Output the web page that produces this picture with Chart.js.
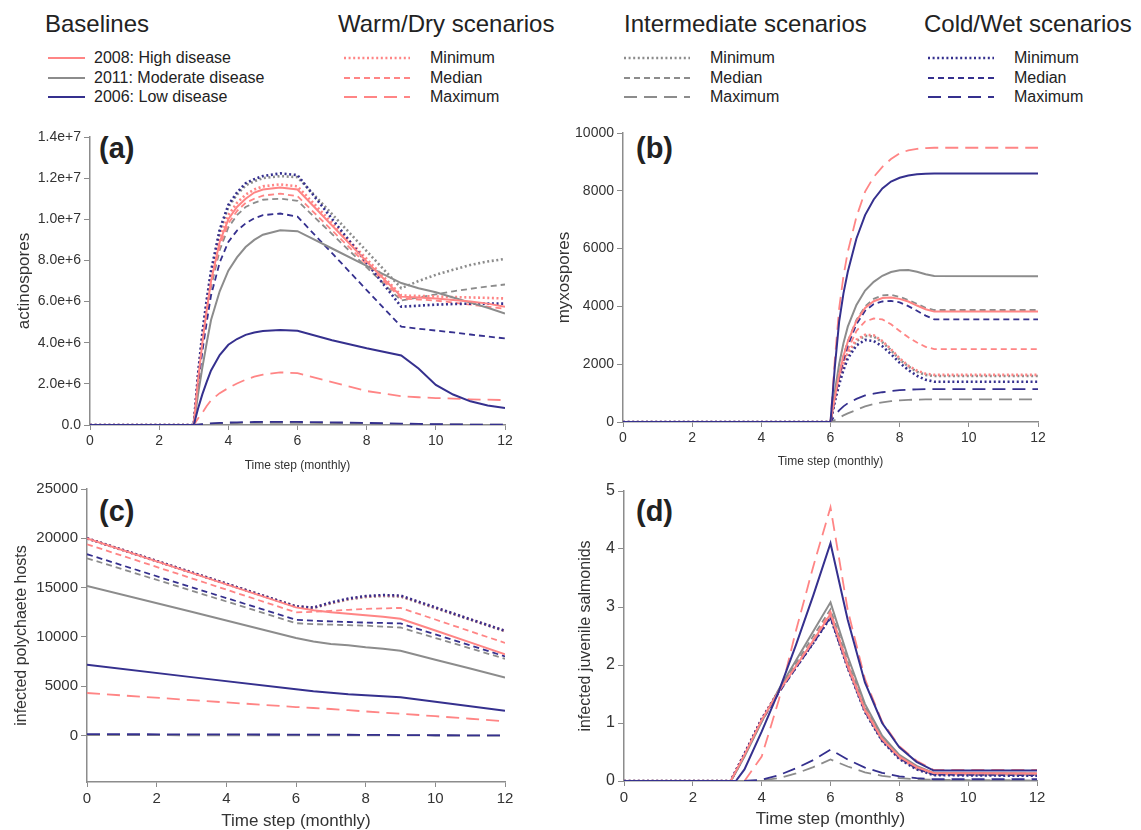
<!DOCTYPE html>
<html>
<head>
<meta charset="utf-8">
<title>Scenario outputs</title>
<script src="https://cdn.jsdelivr.net/npm/chart.js@4.4.1/dist/chart.umd.min.js"></script>
<style>
  body{margin:0;width:1141px;height:830px;position:relative;overflow:hidden;background:#fff;
       font-family:"Liberation Sans",Arial,sans-serif;color:#222}
  canvas{position:absolute}
  .head{position:absolute;top:9px;font-size:24px;line-height:30px;white-space:nowrap}
  .row{position:absolute;height:20px;font-size:16px;line-height:20px;white-space:nowrap}
  .row svg{position:absolute;top:0}
  .row span{position:absolute;top:0}
  .tag{position:absolute;font-size:29px;font-weight:bold;line-height:32px}
</style>
</head>
<body>
<div id="legend"></div>
<div class="tag" style="left:99px;top:132px">(a)</div>
<div class="tag" style="left:636px;top:132px">(b)</div>
<div class="tag" style="left:99px;top:495px">(c)</div>
<div class="tag" style="left:636px;top:495px">(d)</div>
<canvas id="pa" width="560" height="355" style="left:0;top:120px"></canvas>
<canvas id="pb" width="560" height="352" style="left:540px;top:120px"></canvas>
<canvas id="pc" width="560" height="362" style="left:0;top:470px"></canvas>
<canvas id="pd" width="560" height="362" style="left:540px;top:470px"></canvas>
<script>
// colours of the three climate groups
const RED = '#ff8585', GRAY = '#8c8c8c', BLUE = '#35308e';
const STYLE = {
  base: {w: 2, dash: []},
  min:  {w: 2.6, dash: [2, 2.6]},
  med:  {w: 1.8, dash: [6, 4]},
  max:  {w: 1.8, dash: [13, 7]}
};

// ---- (a) actinospores, values in millions ----
const tA = [0, 3, 3.125, 3.25, 3.375, 3.5, 3.75, 4, 4.25, 4.5, 4.75, 5, 5.5, 6, 7, 8, 9, 9.5, 10, 10.5, 11, 11.5, 12];
const aHigh     = [0, 0, 2.2, 4.0, 5.6, 7.0, 8.9, 10.0, 10.6, 11.0, 11.3, 11.45, 11.55, 11.45, 9.7, 7.95, 6.24, 6.2, 6.15, 6.08, 6.0, 5.9, 5.75];
const aModerate = [0, 0, 1.5, 2.8, 4.0, 5.1, 6.5, 7.5, 8.15, 8.65, 9.0, 9.25, 9.47, 9.42, 8.58, 7.74, 6.9, 6.65, 6.45, 6.2, 5.95, 5.7, 5.42];
const aLow      = [0, 0, 0.8, 1.5, 2.1, 2.65, 3.4, 3.9, 4.18, 4.38, 4.5, 4.57, 4.62, 4.58, 4.12, 3.73, 3.38, 2.75, 1.95, 1.48, 1.15, 0.95, 0.82];
const aWarmMin  = [0, 0, 2.3, 4.2, 5.8, 7.2, 9.1, 10.2, 10.8, 11.2, 11.45, 11.6, 11.7, 11.6, 9.83, 8.07, 6.3, 6.27, 6.25, 6.22, 6.2, 6.18, 6.15];
const aWarmMed  = [0, 0, 2.1, 3.9, 5.5, 6.9, 8.7, 9.8, 10.4, 10.8, 11.0, 11.15, 11.25, 11.12, 9.46, 7.8, 6.15, 6.1, 6.05, 5.95, 5.85, 5.75, 5.65];
const aWarmMax  = [0, 0, 0.32, 0.6, 0.92, 1.2, 1.55, 1.8, 2.02, 2.2, 2.35, 2.45, 2.56, 2.52, 2.08, 1.65, 1.4, 1.35, 1.31, 1.28, 1.25, 1.23, 1.21];
const aInterMin = [0, 0, 2.4, 4.4, 6.0, 7.4, 9.4, 10.6, 11.2, 11.65, 11.85, 12.0, 12.1, 12.05, 10.25, 8.45, 6.65, 7.0, 7.3, 7.55, 7.78, 7.95, 8.07];
const aInterMed = [0, 0, 2.05, 3.8, 5.3, 6.7, 8.5, 9.6, 10.2, 10.6, 10.8, 10.95, 11.0, 10.9, 9.28, 7.66, 6.05, 6.2, 6.35, 6.5, 6.62, 6.73, 6.83];
const aInterMax = [0, 0, 0.015, 0.03, 0.045, 0.06, 0.08, 0.09, 0.095, 0.1, 0.105, 0.11, 0.11, 0.11, 0.09, 0.07, 0.05, 0.04, 0.03, 0.03, 0.02, 0.02, 0.02];
const aColdMin  = [0, 0, 2.5, 4.5, 6.1, 7.5, 9.5, 10.7, 11.3, 11.75, 11.95, 12.1, 12.23, 12.15, 10.02, 7.88, 5.75, 5.8, 5.85, 5.88, 5.9, 5.9, 5.9];
const aColdMed  = [0, 0, 1.9, 3.6, 5.0, 6.3, 7.9, 8.9, 9.45, 9.8, 10.05, 10.2, 10.28, 10.13, 8.35, 6.56, 4.78, 4.68, 4.59, 4.5, 4.4, 4.3, 4.21];
const aColdMax  = [0, 0, 0.02, 0.04, 0.06, 0.08, 0.1, 0.12, 0.13, 0.14, 0.145, 0.15, 0.15, 0.15, 0.13, 0.1, 0.07, 0.05, 0.04, 0.03, 0.02, 0.02, 0.01];

// ---- (b) myxospores ----
const tB = [0, 6, 6.125, 6.25, 6.375, 6.5, 6.75, 7, 7.25, 7.5, 7.75, 8, 8.25, 8.5, 8.75, 9, 12];
const bHigh     = [0, 0, 850, 1630, 2280, 2780, 3500, 3950, 4180, 4290, 4310, 4260, 4170, 4030, 3900, 3820, 3820];
const bModerate = [0, 0, 1050, 2000, 2730, 3300, 4050, 4550, 4850, 5060, 5190, 5250, 5260, 5200, 5110, 5050, 5040];
const bLow      = [0, 0, 1900, 3470, 4450, 5200, 6350, 7160, 7700, 8080, 8320, 8450, 8530, 8570, 8590, 8600, 8600];
const bWarmMin  = [0, 0, 800, 1500, 2000, 2400, 2850, 3020, 3000, 2800, 2520, 2200, 1950, 1780, 1670, 1630, 1630];
const bWarmMed  = [0, 0, 780, 1500, 2050, 2500, 3150, 3480, 3580, 3550, 3380, 3150, 2930, 2750, 2600, 2525, 2525];
const bWarmMax  = [0, 0, 2150, 3930, 5050, 5890, 7100, 7970, 8480, 8830, 9100, 9300, 9400, 9450, 9480, 9490, 9490];
const bInterMin = [0, 0, 780, 1450, 1950, 2350, 2800, 2980, 2960, 2760, 2480, 2160, 1920, 1740, 1630, 1590, 1590];
const bInterMed = [0, 0, 870, 1650, 2300, 2800, 3530, 4000, 4260, 4380, 4400, 4330, 4220, 4090, 3950, 3875, 3875];
const bInterMax = [0, 0, 70, 150, 230, 300, 420, 540, 620, 680, 720, 750, 765, 775, 782, 785, 785];
const bColdMin  = [0, 0, 700, 1300, 1800, 2200, 2650, 2840, 2800, 2620, 2350, 2050, 1800, 1600, 1460, 1395, 1395];
const bColdMed  = [0, 0, 820, 1550, 2150, 2650, 3380, 3850, 4080, 4170, 4190, 4140, 4010, 3850, 3680, 3550, 3550];
const bColdMax  = [0, 0, 220, 400, 540, 650, 800, 920, 980, 1030, 1070, 1100, 1120, 1130, 1137, 1140, 1140];

// ---- (c) infected polychaete hosts ----
const tC = [0, 3, 6, 6.5, 7, 7.5, 8, 8.5, 9, 10, 11, 12];
const cHigh     = [20000, 16500, 13000, 12700, 12500, 12350, 12200, 12050, 11850, 10650, 9450, 8250];
const cModerate = [15180, 12550, 9900, 9550, 9300, 9150, 8950, 8800, 8600, 7700, 6800, 5900];
const cLow      = [7190, 5930, 4700, 4500, 4350, 4200, 4100, 4000, 3880, 3430, 2980, 2530];
const cWarmMin  = [20000, 16550, 13100, 12950, 13450, 13850, 14100, 14200, 14150, 12970, 11790, 10620];
const cWarmMed  = [19400, 15950, 12500, 12550, 12650, 12750, 12850, 12900, 12950, 11770, 10580, 9400];
const cWarmMax  = [4320, 3600, 2900, 2800, 2700, 2580, 2450, 2330, 2230, 1970, 1710, 1450];
const cInterMin = [20000, 16550, 13100, 12950, 13400, 13800, 14050, 14150, 14100, 12930, 11760, 10580];
const cInterMed = [17980, 14700, 11400, 11300, 11250, 11200, 11150, 11050, 10960, 9900, 8850, 7790];
const cInterMax = [50, 40, 30, 30, 25, 25, 20, 20, 20, 15, 10, 10];
const cColdMin  = [20000, 16550, 13100, 12980, 13500, 13900, 14150, 14250, 14200, 13000, 11800, 10630];
const cColdMed  = [18390, 15050, 11740, 11650, 11580, 11520, 11460, 11420, 11370, 10260, 9150, 8030];
const cColdMax  = [150, 130, 110, 100, 100, 90, 80, 70, 60, 40, 30, 20];

// ---- (d) infected juvenile salmonids ----
const tD = [0, 3.1, 3.25, 3.5, 4, 4.5, 5, 5.5, 6, 6.5, 7, 7.5, 8, 8.5, 9, 12];
const dHigh     = [0, 0, 0.17, 0.45, 1.05, 1.55, 1.98, 2.42, 2.88, 1.98, 1.22, 0.72, 0.42, 0.24, 0.14, 0.13];
const dModerate = [0, 0, 0.15, 0.42, 1.02, 1.58, 2.08, 2.58, 3.08, 2.15, 1.33, 0.78, 0.45, 0.26, 0.14, 0.13];
const dLow      = [0, 0, 0, 0.2, 0.85, 1.55, 2.35, 3.2, 4.1, 2.78, 1.7, 1.0, 0.58, 0.33, 0.18, 0.18];
const dWarmMin  = [0, 0, 0.18, 0.47, 1.07, 1.56, 1.98, 2.4, 2.85, 1.98, 1.22, 0.71, 0.4, 0.22, 0.12, 0.12];
const dWarmMed  = [0, 0, 0.16, 0.44, 1.03, 1.53, 1.98, 2.44, 2.92, 2.02, 1.25, 0.74, 0.43, 0.24, 0.13, 0.13];
const dWarmMax  = [0, 0, 0, 0, 0.42, 1.4, 2.6, 3.7, 4.72, 2.95, 1.76, 1.02, 0.6, 0.35, 0.19, 0.19];
const dInterMin = [0, 0, 0.17, 0.46, 1.06, 1.55, 1.97, 2.39, 2.83, 1.96, 1.2, 0.7, 0.39, 0.21, 0.11, 0.1];
const dInterMed = [0, 0, 0.16, 0.44, 1.04, 1.56, 2.03, 2.5, 2.96, 2.06, 1.28, 0.75, 0.43, 0.24, 0.12, 0.11];
const dInterMax = [0, 0, 0, 0, 0.01, 0.05, 0.13, 0.24, 0.37, 0.25, 0.15, 0.09, 0.05, 0.03, 0.02, 0.01];
const dColdMin  = [0, 0, 0.18, 0.47, 1.07, 1.55, 1.96, 2.38, 2.82, 1.95, 1.19, 0.69, 0.38, 0.2, 0.1, 0.09];
const dColdMed  = [0, 0, 0.16, 0.44, 1.03, 1.52, 1.95, 2.38, 2.82, 1.96, 1.2, 0.7, 0.4, 0.22, 0.11, 0.1];
const dColdMax  = [0, 0, 0, 0, 0.02, 0.1, 0.22, 0.36, 0.54, 0.37, 0.23, 0.14, 0.08, 0.05, 0.03, 0.03];

// ---- legend ----
const baselineLabels = ['2008: High disease', '2011: Moderate disease', '2006: Low disease'];
const baselineColors = [RED, GRAY, BLUE];
const groupTitles = ['Warm/Dry scenarios', 'Intermediate scenarios', 'Cold/Wet scenarios'];
const groupColors = [RED, GRAY, BLUE];
const kindLabels = ['Minimum', 'Median', 'Maximum'];
const kinds = ['min', 'med', 'max'];

function sample(color, kind, w){
  const s = STYLE[kind];
  return `<svg width="${w}" height="20"><line x1="0" y1="10" x2="${w}" y2="10" stroke="${color}"
    stroke-width="${s.w}" stroke-dasharray="${s.dash.join(',') || 'none'}"/></svg>`;
}

function buildLegend(){
  const rowsY = [48, 68, 87];
  let html = `<div class="head" style="left:45px">Baselines</div>`;
  baselineLabels.forEach((lab, i) => {
    html += `<div class="row" style="left:48px;top:${rowsY[i]}px">${sample(baselineColors[i], 'base', 37)}
      <span style="left:46px">${lab}</span></div>`;
  });
  const heads = [338, 624, 924], samples = [344, 624, 928];
  groupTitles.forEach((t, g) => {
    html += `<div class="head" style="left:${heads[g]}px">${t}</div>`;
    kinds.forEach((k, i) => {
      html += `<div class="row" style="left:${samples[g]}px;top:${rowsY[i]}px">${sample(groupColors[g], k, 66)}
        <span style="left:86px">${kindLabels[i]}</span></div>`;
    });
  });
  document.getElementById('legend').innerHTML = html;
}
buildLegend();

// ---- charts ----
function lines(t, rows){
  return rows.map(([vals, color, kind]) => ({
    data: t.map((x, i) => ({x, y: vals[i]})),
    borderColor: color,
    borderWidth: STYLE[kind].w,
    borderDash: STYLE[kind].dash,
    pointRadius: 0,
    fill: false,
    tension: 0
  }));
}

function makePanel(id, datasets, p){
  new Chart(document.getElementById(id), {
    type: 'line',
    data: { datasets },
    options: {
      responsive: false,
      animation: false,
      events: [],
      layout: { padding: { top: p.top, right: p.right, left: 0, bottom: 0 } },
      plugins: { legend: { display: false }, tooltip: { enabled: false } },
      scales: {
        x: {
          type: 'linear', min: 0, max: 12,
          ticks: { stepSize: 2, color: '#333', font: { size: p.xTick }, padding: 3, maxRotation: 0 },
          grid: { drawOnChartArea: false, drawTicks: true, tickLength: 5, color: '#8c8c8c' },
          border: { color: '#8c8c8c', width: 1.5 },
          title: { display: true, text: 'Time step (monthly)', color: '#333',
                   font: { size: p.xTitle }, padding: { top: 0, bottom: p.xTitlePad } },
          afterFit: s => { s.height = p.xHeight; }
        },
        y: {
          min: p.ymin, max: p.ymax,
          ticks: { stepSize: p.step, color: '#333', font: { size: p.yTick }, padding: 3,
                   callback: p.fmt || (v => v) },
          // labelled ticks only at multiples of the step from 0 up
          afterBuildTicks: s => {
            const ticks = [];
            for (let v = 0; v <= p.ymax + 1e-9; v += p.step) ticks.push({ value: v });
            s.ticks = ticks;
          },
          grid: { drawOnChartArea: false, drawTicks: true, tickLength: 6, color: '#8c8c8c' },
          border: { color: '#8c8c8c', width: 1.5 },
          title: { display: true, text: p.ylabel, color: '#333',
                   font: { size: p.yTitle }, padding: { top: p.yTitlePad, bottom: 0 } },
          afterFit: s => { s.width = p.yWidth; }
        }
      }
    }
  });
}

makePanel('pa', lines(tA, [
  [aLow, BLUE, 'base'], [aHigh, RED, 'base'], [aModerate, GRAY, 'base'],
  [aColdMin, BLUE, 'min'], [aColdMed, BLUE, 'med'], [aColdMax, BLUE, 'max'],
  [aWarmMin, RED, 'min'], [aWarmMed, RED, 'med'], [aWarmMax, RED, 'max'],
  [aInterMin, GRAY, 'min'], [aInterMed, GRAY, 'med'], [aInterMax, GRAY, 'max']
]), { top: 17, right: 55, yWidth: 90, xHeight: 50, ymin: 0, ymax: 14, step: 2,
      fmt: v => v === 0 ? '0.0' : (v * 1e6).toExponential(1),
      ylabel: 'actinospores', yTitle: 17, yTitlePad: 14, yTick: 14,
      xTick: 14, xTitle: 12, xTitlePad: 2 });

makePanel('pb', lines(tB, [
  [bLow, BLUE, 'base'], [bHigh, RED, 'base'], [bModerate, GRAY, 'base'],
  [bColdMin, BLUE, 'min'], [bColdMed, BLUE, 'med'], [bColdMax, BLUE, 'max'],
  [bWarmMin, RED, 'min'], [bWarmMed, RED, 'med'], [bWarmMax, RED, 'max'],
  [bInterMin, GRAY, 'min'], [bInterMed, GRAY, 'med'], [bInterMax, GRAY, 'max']
]), { top: 13, right: 62, yWidth: 83, xHeight: 50, ymin: 0, ymax: 10000, step: 2000,
      ylabel: 'myxospores', yTitle: 17, yTitlePad: 14, yTick: 14,
      xTick: 14, xTitle: 12, xTitlePad: 3 });

makePanel('pc', lines(tC, [
  [cLow, BLUE, 'base'], [cHigh, RED, 'base'], [cModerate, GRAY, 'base'],
  [cColdMin, BLUE, 'min'], [cColdMed, BLUE, 'med'], [cColdMax, BLUE, 'max'],
  [cWarmMin, RED, 'min'], [cWarmMed, RED, 'med'], [cWarmMax, RED, 'max'],
  [cInterMin, GRAY, 'min'], [cInterMed, GRAY, 'med'], [cInterMax, GRAY, 'max']
]), { top: 19, right: 55, yWidth: 87, xHeight: 50, ymin: -4700, ymax: 25000, step: 5000,
      ylabel: 'infected polychaete hosts', yTitle: 16, yTitlePad: 12, yTick: 15,
      xTick: 15, xTitle: 17, xTitlePad: 0 });

makePanel('pd', lines(tD, [
  [dLow, BLUE, 'base'], [dHigh, RED, 'base'], [dModerate, GRAY, 'base'],
  [dColdMin, BLUE, 'min'], [dColdMed, BLUE, 'med'], [dColdMax, BLUE, 'max'],
  [dWarmMin, RED, 'min'], [dWarmMed, RED, 'med'], [dWarmMax, RED, 'max'],
  [dInterMin, GRAY, 'min'], [dInterMed, GRAY, 'med'], [dInterMax, GRAY, 'max']
]), { top: 21, right: 63, yWidth: 84, xHeight: 51, ymin: 0, ymax: 5, step: 1,
      ylabel: 'infected juvenile salmonids', yTitle: 16, yTitlePad: 36, yTick: 16,
      xTick: 15, xTitle: 17, xTitlePad: 2 });
</script>
</body>
</html>
